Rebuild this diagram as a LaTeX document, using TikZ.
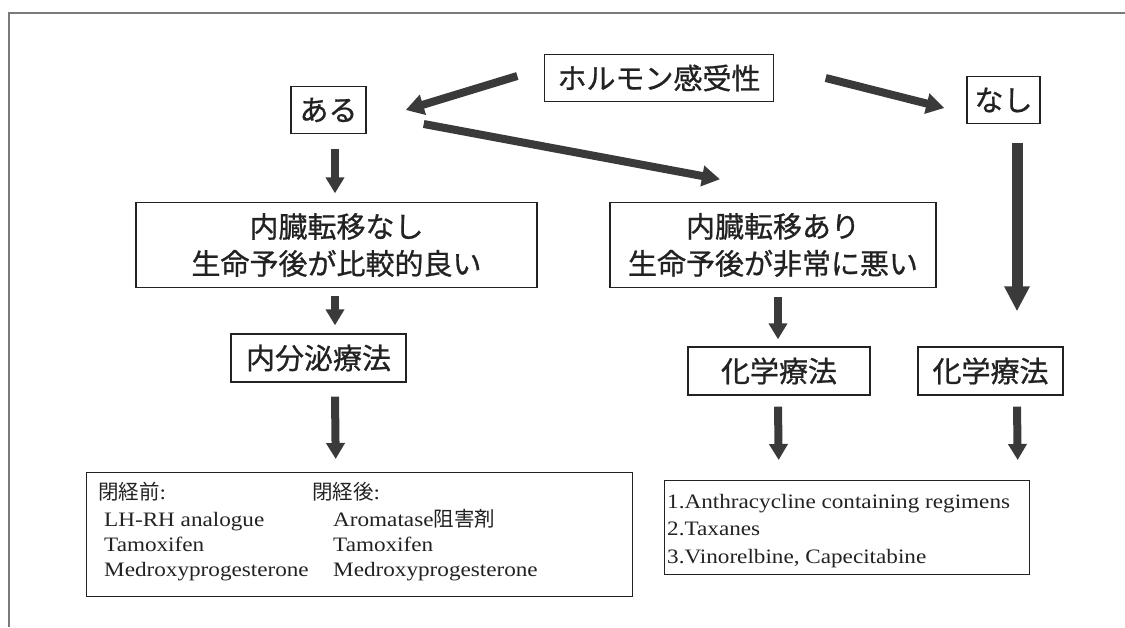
\documentclass[tikz,border=0pt]{standalone}
\usepackage{fontspec}
\setmainfont{Liberation Serif}
\newfontfamily\jp{Noto Sans CJK JP}
\newfontfamily\jpm[FakeBold=0.8]{Noto Sans CJK JP}
\newfontfamily\tnr[FakeStretch=1.13]{Liberation Serif}
\usetikzlibrary{arrows.meta,calc}
\definecolor{ink}{HTML}{222222}
\definecolor{arr}{HTML}{3A3A3A}
\definecolor{frame}{HTML}{7A7A7A}
\tikzset{
  box/.style={draw=ink, line width=1.4pt, inner sep=0pt, text=ink, align=center, font=\jpm\fontsize{29}{37}\selectfont},
  listbox/.style={draw=ink, line width=1.4pt, inner sep=0pt, anchor=north west},
  listtxt/.style={anchor=base west, inner sep=0pt, text=ink, font=\tnr\fontsize{20.5}{25}\selectfont},
  bigarrow/.style={draw=arr, line width=8pt, -{Triangle[width=20pt,length=18pt]}},
  downarrow/.style={draw=arr, line width=8pt, -{Triangle[width=18pt,length=16pt]}},
  heavyarrow/.style={draw=arr, line width=11pt, -{Triangle[width=24pt,length=25pt]}},
}
\begin{document}
\begin{tikzpicture}[x=1pt,y=-1pt]
\useasboundingbox (0,0) rectangle (1125,627);
% outer frame
\draw[frame, line width=1.2pt] (9,627) -- (9,13) -- (1125,13);

% nodes
\node[box, minimum width=229pt, minimum height=47pt] (hormone) at (659,78) {ホルモン感受性};
\node[box, minimum width=75pt, minimum height=47pt] (aru) at (328.5,110) {ある};
\node[box, minimum width=73pt, minimum height=47pt] (nashi) at (1003.5,100) {なし};
\node[box, minimum width=401pt, minimum height=85pt] (noMeta) at (336.5,245) {内臓転移なし\\生命予後が比較的良い};
\node[box, minimum width=326pt, minimum height=85pt] (meta) at (773,245) {内臓転移あり\\生命予後が非常に悪い};
\node[box, minimum width=175pt, minimum height=48pt] (endo) at (318.5,358) {内分泌療法};
\node[box, minimum width=182pt, minimum height=48pt] (chemoA) at (779,371) {化学療法};
\node[box, minimum width=145pt, minimum height=48pt] (chemoB) at (990.5,371) {化学療法};

% list boxes
\node[listbox, minimum width=546pt, minimum height=124pt] (leftlist) at (86,472) {};
\node[listbox, minimum width=365pt, minimum height=94pt] (rightlist) at (664,480) {};

% left list text
\node[listtxt] (pre) at (98,499) {{\jp 閉経前}:};
\node[listtxt] (preA) at (104,526) {LH-RH analogue};
\node[listtxt] (preB) at (104,551) {Tamoxifen};
\node[listtxt] (preC) at (104,576) {Medroxyprogesterone};
\node[listtxt] (post) at (312,499) {{\jp 閉経後}:};
\node[listtxt] (postA) at (333,526) {Aromatase{\jp 阻害剤}};
\node[listtxt] (postB) at (333,551) {Tamoxifen};
\node[listtxt] (postC) at (333,576) {Medroxyprogesterone};

% right list text
\node[listtxt] (r1) at (667,508) {1.Anthracycline containing regimens};
\node[listtxt] (r2) at (667,535.5) {2.Taxanes};
\node[listtxt] (r3) at (667,563) {3.Vinorelbine, Capecitabine};

% arrows
\draw[bigarrow] ($(hormone.west)+(-26.5,-2)$) -- ($(aru.east)+(39,0)$);
\draw[bigarrow] ($(aru.east)+(57,14)$) -- ($(meta.north)+(-53,-22.5)$);
\draw[bigarrow] ($(hormone.east)+(51.5,0)$) -- ($(nashi.west)+(-22,8)$);
\draw[downarrow] ($(aru.south)+(6.5,14.5)$) -- ($(noMeta.north)+(-1.5,-8.5)$);
\draw[heavyarrow] ($(nashi.south)+(13.5,18.5)$) -- ($(chemoB.north)+(26.5,-35)$);
\draw[downarrow] ($(noMeta.south)+(-1.5,7.5)$) -- ($(endo.north)+(16.5,-8)$);
\draw[downarrow] ($(meta.south)+(5,8.5)$) -- ($(chemoA.north)+(-1,-7)$);
\draw[downarrow] ($(endo.south)+(16.5,14)$) -- ($(leftlist.north)+(-24,-13)$);
\draw[downarrow] ($(chemoA.south)+(-1,11)$) -- ($(rightlist.north)+(-68.5,-20)$);
\draw[downarrow] ($(chemoB.south)+(26.5,11)$) -- ($(rightlist.north)+(170.5,-20)$);
\end{tikzpicture}
\end{document}
